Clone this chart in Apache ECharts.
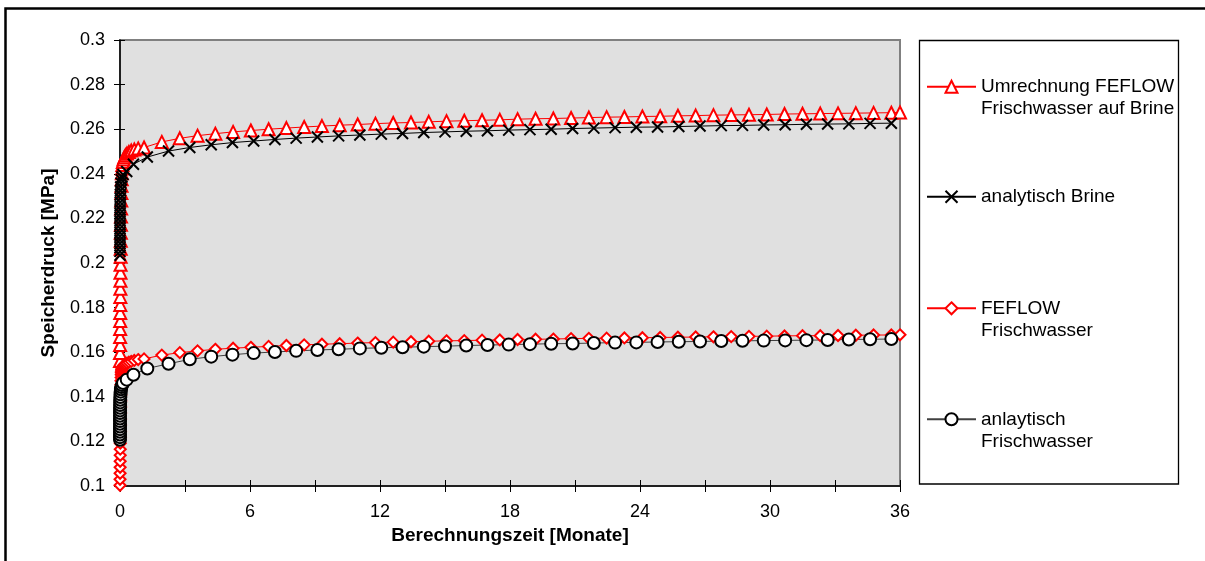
<!DOCTYPE html>
<html>
<head>
<meta charset="utf-8">
<script src="https://cdn.jsdelivr.net/npm/echarts@6/dist/echarts.min.js"></script>
<style>
html,body{margin:0;padding:0;background:#fff;}
#chart{width:1205px;height:561px;}
</style>
</head>
<body>
<div id="chart"></div>
<script>
// ---------- data (months, MPa) ----------
const seriesNames = [
  'Umrechnung FEFLOW\nFrischwasser auf Brine',
  'analytisch Brine',
  'FEFLOW\nFrischwasser',
  'anlaytisch\nFrischwasser'
];
const xTickLabels = ['0','','6','','12','','18','','24','','30','','36'];
const yTickLabels = ['0.1','0.12','0.14','0.16','0.18','0.2','0.22','0.24','0.26','0.28','0.3'];

const feflowTime = [
  0, 0.002, 0.004, 0.006, 0.008, 0.010, 0.012, 0.014, 0.016, 0.018, 0.020, 0.023, 0.026,
  0.029, 0.032, 0.035, 0.039, 0.043, 0.047, 0.052, 0.057, 0.063, 0.070, 0.078, 0.087, 0.097,
  0.11, 0.13, 0.16, 0.20, 0.25, 0.32, 0.41, 0.52, 0.66, 0.84,
  1.11, 1.93, 2.76, 3.58, 4.40, 5.22, 6.04, 6.86, 7.68, 8.50, 9.32, 10.14, 10.97, 11.79,
  12.61, 13.43, 14.25, 15.07, 15.89, 16.71, 17.53, 18.35, 19.18, 20.00, 20.82, 21.64,
  22.46, 23.28, 24.11, 24.93, 25.75, 26.57, 27.39, 28.21, 29.03, 29.85, 30.67, 31.50,
  32.32, 33.14, 33.96, 34.78, 35.60, 36.00
];
const umrechnungBrine = [
  0.1560, 0.1596, 0.1632, 0.1668, 0.1704, 0.1740, 0.1776, 0.1812, 0.1848, 0.1884, 0.1920, 0.1956, 0.1992,
  0.2028, 0.2064, 0.2100, 0.2136, 0.2172, 0.2208, 0.2244, 0.2280, 0.2314, 0.2346, 0.2376, 0.2402, 0.2424,
  0.2440, 0.2453, 0.2464, 0.2474, 0.2483, 0.2491, 0.2498, 0.2504, 0.2509, 0.2514,
  0.2518, 0.2543, 0.2559, 0.2571, 0.2580, 0.2588, 0.2594, 0.2600, 0.2605, 0.2610, 0.2614, 0.2618, 0.2621, 0.2625,
  0.2628, 0.2630, 0.2633, 0.2636, 0.2638, 0.2640, 0.2642, 0.2645, 0.2647, 0.2648, 0.2650, 0.2652,
  0.2654, 0.2655, 0.2657, 0.2658, 0.2660, 0.2661, 0.2663, 0.2664, 0.2665, 0.2666, 0.2668, 0.2669,
  0.2670, 0.2671, 0.2672, 0.2673, 0.2674, 0.2675
];
const feflowFrisch = [
  0.1003, 0.1030, 0.1057, 0.1084, 0.1111, 0.1138, 0.1165, 0.1192, 0.1219, 0.1246, 0.1273, 0.1300, 0.1327,
  0.1354, 0.1381, 0.1408, 0.1432, 0.1454, 0.1472, 0.1487, 0.1499, 0.1508, 0.1515, 0.1520, 0.1524, 0.1528,
  0.1531, 0.1535, 0.1539, 0.1543, 0.1547, 0.1551, 0.1555, 0.1559, 0.1563, 0.1567,
  0.1570, 0.1587, 0.1598, 0.1606, 0.1613, 0.1618, 0.1622, 0.1626, 0.1630, 0.1633, 0.1636, 0.1638, 0.1641, 0.1643,
  0.1645, 0.1647, 0.1649, 0.1651, 0.1652, 0.1654, 0.1655, 0.1657, 0.1658, 0.1659, 0.1661, 0.1662,
  0.1663, 0.1664, 0.1665, 0.1666, 0.1667, 0.1668, 0.1669, 0.1670, 0.1671, 0.1672, 0.1673, 0.1674,
  0.1674, 0.1675, 0.1676, 0.1677, 0.1677, 0.1678
];

const analyticTime = [
  0.0001, 0.00015, 0.0002, 0.0003, 0.0004, 0.0005, 0.0007, 0.001, 0.0013, 0.0018, 0.0025, 0.0034,
  0.0046, 0.0063, 0.0086, 0.012, 0.016, 0.022, 0.031, 0.042, 0.060, 0.090, 0.14,
  0.31, 0.62,
  1.26, 2.24, 3.22, 4.21, 5.19, 6.17, 7.15, 8.13, 9.11, 10.09, 11.07, 12.06, 13.04, 14.02,
  15.00, 15.98, 16.96, 17.94, 18.92, 19.90, 20.89, 21.87, 22.85, 23.83, 24.81, 25.79,
  26.77, 27.75, 28.73, 29.71, 30.70, 31.68, 32.66, 33.64, 34.62, 35.60
];
const analytischBrine = [
  0.2035, 0.2052, 0.2069, 0.2086, 0.2103, 0.2120, 0.2137, 0.2154, 0.2171, 0.2188, 0.2205, 0.2222,
  0.2239, 0.2256, 0.2273, 0.2290, 0.2307, 0.2324, 0.2341, 0.2358, 0.2373, 0.2386, 0.2397,
  0.2410, 0.2443,
  0.2475, 0.2502, 0.2518, 0.2530, 0.2540, 0.2547, 0.2554, 0.2560, 0.2565, 0.2570, 0.2574, 0.2578, 0.2581, 0.2585,
  0.2588, 0.2591, 0.2593, 0.2596, 0.2598, 0.2600, 0.2603, 0.2605, 0.2607, 0.2609, 0.2610, 0.2612,
  0.2614, 0.2616, 0.2617, 0.2619, 0.2620, 0.2622, 0.2623, 0.2624, 0.2626, 0.2627
];
const analytischFrisch = [
  0.1207, 0.1219, 0.1231, 0.1243, 0.1255, 0.1267, 0.1279, 0.1291, 0.1303, 0.1315, 0.1327, 0.1339,
  0.1351, 0.1363, 0.1375, 0.1387, 0.1399, 0.1411, 0.1423, 0.1434, 0.1444, 0.1453, 0.1462,
  0.1477, 0.1499,
  0.1527, 0.1548, 0.1568, 0.1580, 0.1589, 0.1596, 0.1601, 0.1606, 0.1610, 0.1613, 0.1617, 0.1620, 0.1622, 0.1625,
  0.1627, 0.1630, 0.1632, 0.1634, 0.1636, 0.1638, 0.1639, 0.1641, 0.1643, 0.1644, 0.1646, 0.1647,
  0.1648, 0.1650, 0.1651, 0.1652, 0.1653, 0.1654, 0.1655, 0.1657, 0.1658, 0.1659
];

// ---------- chart ----------
const FONT = '"Liberation Sans", Arial, sans-serif';
function pairs(t, v) { return t.map((x, i) => [x, v[i]]); }

const chart = echarts.init(document.getElementById('chart'), null, {renderer: 'canvas'});

const legendBase = {
  orient: 'vertical', left: 926, padding: 0, itemWidth: 49, itemHeight: 15,
  selectedMode: false,
  textStyle: {fontFamily: FONT, fontSize: 19, color: '#000', lineHeight: 22}
};
// two-line entries: a blank first line keeps the key level with the first text line
const firstLineKey = name => ' \n' + name;

const option = {
  backgroundColor: '#fff',
  animation: false,
  grid: {
    left: 120, top: 40, right: 305, bottom: 75,
    show: true, backgroundColor: '#e0e0e0', borderColor: '#808080', borderWidth: 2
  },
  legend: [
    Object.assign({}, legendBase, {top: 53.7, data: [seriesNames[0]], formatter: firstLineKey}),
    Object.assign({}, legendBase, {top: 185.7, data: [seriesNames[1]]}),
    Object.assign({}, legendBase, {top: 275.3, data: [seriesNames[2]], formatter: firstLineKey}),
    Object.assign({}, legendBase, {top: 386.3, data: [seriesNames[3]], formatter: firstLineKey})
  ],
  xAxis: [{
    type: 'value', min: 0, max: 36, interval: 3,
    name: 'Berechnungszeit [Monate]', nameLocation: 'middle', nameGap: 40,
    nameTextStyle: {fontFamily: FONT, fontSize: 19, fontWeight: 'bold', color: '#000'},
    axisLine: {show: true, lineStyle: {color: '#000', width: 1.5}},
    axisTick: {show: true, length: 6, lineStyle: {color: '#000', width: 1}},
    axisLabel: {
      show: true, margin: 17, fontFamily: FONT, fontSize: 18, color: '#000',
      showMinLabel: true, showMaxLabel: true, hideOverlap: false,
      formatter: v => xTickLabels[Math.round(v / 3)] || ''
    },
    splitLine: {show: false}
  }, {
    type: 'value', min: 0, max: 36, interval: 3, position: 'bottom', gridIndex: 0,
    axisLine: {show: false},
    axisTick: {show: true, inside: true, length: 6, lineStyle: {color: '#000', width: 1}},
    axisLabel: {show: false}, splitLine: {show: false}
  }],
  yAxis: [{
    type: 'value', min: 0.1, max: 0.3, interval: 0.02,
    name: 'Speicherdruck [MPa]', nameLocation: 'middle', nameGap: 62,
    nameTextStyle: {fontFamily: FONT, fontSize: 19, fontWeight: 'bold', color: '#000'},
    axisLine: {show: true, lineStyle: {color: '#000', width: 1.5}},
    axisTick: {show: true, length: 6, lineStyle: {color: '#000', width: 1}},
    axisLabel: {
      show: true, margin: 15, fontFamily: FONT, fontSize: 18, color: '#000',
      showMinLabel: true, showMaxLabel: true,
      formatter: v => yTickLabels[Math.round((v - 0.1) / 0.02)] || ''
    },
    splitLine: {show: false}
  }, {
    type: 'value', min: 0.1, max: 0.3, interval: 0.02, position: 'left', gridIndex: 0,
    axisLine: {show: false},
    axisTick: {show: true, inside: true, length: 5, lineStyle: {color: '#000', width: 1}},
    axisLabel: {show: false}, splitLine: {show: false}
  }],
  series: [
    {
      name: seriesNames[0], type: 'line', data: pairs(feflowTime, umrechnungBrine),
      symbol: 'triangle', symbolSize: 12, showAllSymbol: true, clip: false,
      lineStyle: {color: '#ff0000', width: 1},
      itemStyle: {color: '#ffffff', borderColor: '#ff0000', borderWidth: 2}
    },
    {
      name: seriesNames[1], type: 'line', data: pairs(analyticTime, analytischBrine),
      symbol: 'path://M0,0L10,10M0,10L10,0', symbolSize: 11, showAllSymbol: true, clip: false,
      lineStyle: {color: '#000', width: 1},
      itemStyle: {color: '#000', borderColor: '#000', borderWidth: 2}
    },
    {
      name: seriesNames[2], type: 'line', data: pairs(feflowTime, feflowFrisch),
      symbol: 'diamond', symbolSize: 11, showAllSymbol: true, clip: false,
      lineStyle: {color: '#ff0000', width: 1},
      itemStyle: {color: '#ffffff', borderColor: '#ff0000', borderWidth: 2}
    },
    {
      name: seriesNames[3], type: 'line', data: pairs(analyticTime, analytischFrisch),
      symbol: 'circle', symbolSize: 12, showAllSymbol: true, clip: false,
      lineStyle: {color: '#404040', width: 1},
      itemStyle: {color: '#ffffff', borderColor: '#000', borderWidth: 2}
    }
  ],
  graphic: [
    {type: 'rect', silent: true, z: 100, shape: {x: 5.5, y: 8.5, width: 1300, height: 700},
     style: {fill: 'none', stroke: '#000', lineWidth: 2.5}},
    {type: 'rect', silent: true, z: 100, shape: {x: 919.5, y: 40.5, width: 259, height: 443.5},
     style: {fill: 'none', stroke: '#000', lineWidth: 1.3}}
  ]
};
chart.setOption(option);
</script>
</body>
</html>
